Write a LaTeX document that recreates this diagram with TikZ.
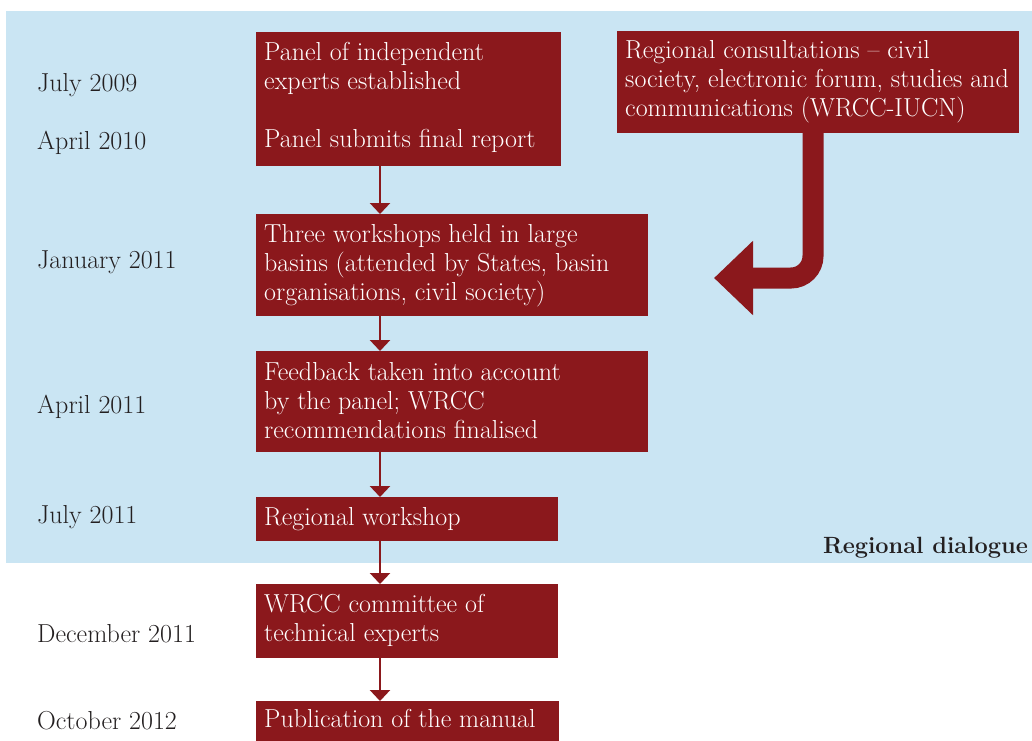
\documentclass[tikz,border=0pt]{standalone}
\usetikzlibrary{arrows.meta}
\definecolor{dred}{HTML}{8B181C}
\definecolor{bgblue}{HTML}{CAE5F3}
\definecolor{dtext}{HTML}{231F20}
\begin{document}
\begin{tikzpicture}[x=1pt,y=-1pt,
  box/.style={fill=dred, draw=none, anchor=north west, inner sep=0pt},
  btext/.style={anchor=north west, inner sep=0pt, align=left, text=white, font=\fontsize{26}{29}\selectfont},
  datelbl/.style={anchor=base west, inner sep=0pt, text=dtext, font=\fontsize{26}{29}\selectfont},
  flow/.style={dred, line width=2.5pt, -{Triangle[width=20pt,length=11pt]}},
  bigarrow/.style={dred, line width=21pt, rounded corners=22pt, -{Triangle[width=72pt,length=39pt]}}
]
\useasboundingbox (0,0) rectangle (1032,740);
\fill[bgblue] (6,11) rectangle (1032,563);

% boxes
\node[box, minimum width=305pt, minimum height=134pt] (b1) at (256,32) {};
\node[box, minimum width=402pt, minimum height=102pt] (reg) at (617,31) {};
\node[box, minimum width=392pt, minimum height=102pt] (b3) at (256,214) {};
\node[box, minimum width=392pt, minimum height=101pt] (b4) at (256,351) {};
\node[box, minimum width=302pt, minimum height=44pt] (b5) at (256,497) {};
\node[box, minimum width=302pt, minimum height=74pt] (b6) at (256,584) {};
\node[box, minimum width=303pt, minimum height=44pt] (b7) at (256,701) {};

% box texts (first line strut 20pt: node top = first baseline - 20)
\node[btext] (t1) at (264,40) {\rule{0pt}{20pt}Panel of independent\\experts established\\[29pt]Panel submits final report};
\node[btext] (treg) at (625,38) {\rule{0pt}{20pt}Regional consultations -- civil\\society, electronic forum, studies and\\communications (WRCC-IUCN)};
\node[btext] (t3) at (264,222) {\rule{0pt}{20pt}Three workshops held in large\\basins (attended by States, basin\\organisations, civil society)};
\node[btext] (t4) at (264,360) {\rule{0pt}{20pt}Feedback taken into account\\by the panel; WRCC\\recommendations finalised};
\node[btext] (t5) at (264,505) {\rule{0pt}{20pt}Regional workshop};
\node[btext] (t6) at (264,592) {\rule{0pt}{20pt}WRCC committee of\\technical experts};
\node[btext] (t7) at (264,707) {\rule{0pt}{20pt}Publication of the manual};

% dates
\node[datelbl] (d1) at (37,91) {July 2009};
\node[datelbl] (d2) at (37,149) {April 2010};
\node[datelbl] (d3) at (37,268) {January 2011};
\node[datelbl] (d4) at (37,413) {April 2011};
\node[datelbl] (d5) at (37,523) {July 2011};
\node[datelbl] (d6) at (37,642) {December 2011};
\node[datelbl] (d7) at (37,729) {October 2012};

\node[anchor=base east, inner sep=0pt, text=dtext, font=\bfseries\fontsize{23.5}{26}\selectfont] (rd) at (1028,553) {Regional dialogue};

% connectors
\coordinate (ax) at (380,0);
\draw[flow] (b1.south -| ax) -- (b3.north -| ax);
\draw[flow] (b3.south -| ax) -- (b4.north -| ax);
\draw[flow] (b4.south -| ax) -- (b5.north -| ax);
\draw[flow] (b5.south -| ax) -- (b6.north -| ax);
\draw[flow] (b6.south -| ax) -- (b7.north -| ax);

\coordinate (bx) at (813,0);
\coordinate (tip) at (714,278);
\draw[bigarrow] ([yshift=1pt]reg.south -| bx) -- (bx |- tip) -- (tip);
\end{tikzpicture}
\end{document}
